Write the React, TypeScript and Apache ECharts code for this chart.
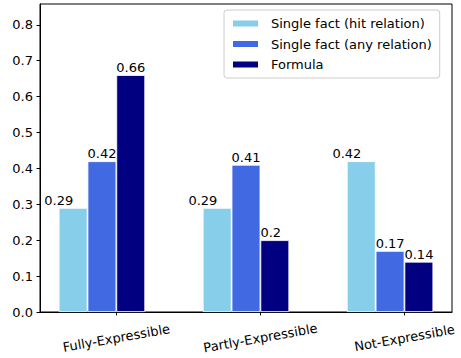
import React, { useEffect, useRef } from "react";
import * as echarts from "echarts";

const categories = ["Fully-Expressible", "Partly-Expressible", "Not-Expressible"];
const seriesNames = ["Single fact (hit relation)", "Single fact (any relation)", "Formula"];
const hitRelation = [0.29, 0.29, 0.42];
const anyRelation = [0.42, 0.41, 0.17];
const formula = [0.66, 0.2, 0.14];
const yTicks = [0, 0.1, 0.2, 0.3, 0.4, 0.5, 0.6, 0.7, 0.8];
const xTicks = [0, 1, 2];

const W = 461;
const H = 358;
const GRID = { left: 40, right: 9, top: 4, bottom: 46 };
const X_MIN = -0.53;
const X_MAX = 2.33;
const Y_MAX = 0.858;
const BAR_UNITS = 0.2;
const FONT = "DejaVu Sans";

export default function App() {
  const ref = useRef<HTMLDivElement>(null);
  useEffect(() => {
    if (!ref.current) return;
    const chart = echarts.init(ref.current, undefined, { renderer: "svg" });
    const plotW = W - GRID.left - GRID.right;
    const barW = (BAR_UNITS * plotW) / (X_MAX - X_MIN);
    const offsets = [-0.3, -0.1, 0.1];
    const colors = ["#87CEEB", "#4169E1", "#000080"];
    const values = [hitRelation, anyRelation, formula];
    const labelShift = [-barW, -barW / 2, -barW / 2];
    const series = values.map((vals, s) => ({
      name: seriesNames[s],
      type: "bar",
      barWidth: barW,
      barGap: "-100%",
      itemStyle: { color: colors[s], borderColor: "#ffffff", borderWidth: 0.8 },
      label: {
        show: true,
        position: "top",
        distance: 1,
        align: "left",
        offset: [labelShift[s], 0],
        color: "#000",
        fontFamily: FONT,
        fontSize: 13,
        formatter: (p: any) => String(p.value[1]),
      },
      data: vals.map((v, i) => [i + offsets[s], v]),
    }));
    chart.setOption({
      animation: false,
      textStyle: { fontFamily: FONT },
      grid: { ...GRID, show: true, borderColor: "#000", borderWidth: 1, backgroundColor: "transparent" },
      legend: {
        left: 224,
        top: 10,
        orient: "vertical",
        align: "left",
        itemWidth: 27,
        itemHeight: 8,
        itemGap: 5.5,
        icon: "rect",
        padding: [6, 8, 6, 7],
        borderColor: "#cccccc",
        borderWidth: 1,
        borderRadius: 3,
        backgroundColor: "rgba(255,255,255,0.8)",
        textStyle: { fontFamily: FONT, fontSize: 13, color: "#000", lineHeight: 15, padding: [0, 0, 0, 7] },
        data: seriesNames,
      },
      xAxis: {
        type: "value",
        min: X_MIN,
        max: X_MAX,
        splitLine: { show: false },
        axisLine: { show: true, onZero: false, lineStyle: { color: "#000", width: 1 } },
        axisTick: { show: true, length: 3.5, customValues: xTicks, lineStyle: { color: "#000" } },
        axisLabel: {
          customValues: xTicks,
          rotate: 10,
          align: "center",
          verticalAlign: "middle",
          margin: 26,
          color: "#000",
          fontFamily: FONT,
          fontSize: 13,
          formatter: (v: number) => categories[Math.round(v)] ?? "",
        },
      },
      yAxis: {
        type: "value",
        min: 0,
        max: Y_MAX,
        splitLine: { show: false },
        axisLine: { show: true, onZero: false, lineStyle: { color: "#000", width: 1 } },
        axisTick: { show: true, length: 3.5, customValues: yTicks, lineStyle: { color: "#000" } },
        axisLabel: {
          customValues: yTicks,
          margin: 7,
          color: "#000",
          fontFamily: FONT,
          fontSize: 13,
          formatter: (v: number) => v.toFixed(1),
        },
      },
      series,
    });
    return () => chart.dispose();
  }, []);
  return <div ref={ref} style={{ position: "fixed", left: 0, top: 0, width: W, height: H, background: "#fff" }} />;
}
